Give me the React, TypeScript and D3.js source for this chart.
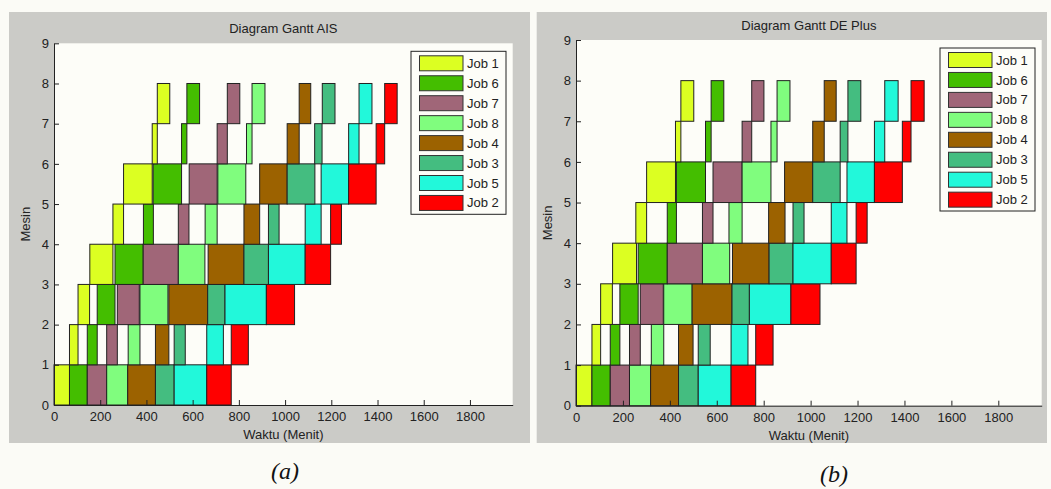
import React, { useRef, useEffect } from 'react';
import * as d3 from 'd3';

// job order on every machine (legend order too)
const jobs = ['Job 1', 'Job 6', 'Job 7', 'Job 8', 'Job 4', 'Job 3', 'Job 5', 'Job 2'];
const jobColors = ['#dcff22', '#44be00', '#a06678', '#80fd7e', '#9c6200', '#44bd80', '#22f8da', '#ff0000'];

const xTicks = [0, 200, 400, 600, 800, 1000, 1200, 1400, 1600, 1800];
const yTicks = [0, 1, 2, 3, 4, 5, 6, 7, 8, 9];
const xMax = 1985;
const yMax = 9;

// [start, end] per job, one list per machine (Mesin 1..8), AIS result
const aisSchedule = [
  [[0, 67], [67, 144], [144, 228], [228, 319], [319, 439], [439, 520], [520, 661], [661, 767]],
  [[67, 104], [144, 187], [228, 274], [321, 372], [439, 497], [520, 568], [661, 733], [767, 841]],
  [[104, 154], [187, 264], [274, 369], [372, 493], [497, 665], [665, 740], [740, 919], [919, 1041]],
  [[155, 255], [264, 386], [386, 538], [538, 653], [667, 822], [822, 928], [928, 1087], [1087, 1197]],
  [[255, 301], [387, 430], [538, 584], [654, 706], [822, 890], [928, 974], [1087, 1156], [1197, 1244]],
  [[301, 425], [429, 552], [585, 706], [709, 830], [890, 1009], [1009, 1129], [1156, 1275], [1275, 1394]],
  [[425, 447], [552, 575], [706, 750], [833, 857], [1009, 1061], [1128, 1160], [1275, 1320], [1394, 1431]],
  [[447, 501], [575, 630], [750, 804], [857, 913], [1061, 1111], [1161, 1216], [1320, 1376], [1431, 1485]],
];

// same layout, DE Plus result
const dePlusSchedule = [
  [[0, 68], [68, 146], [146, 228], [228, 318], [318, 437], [437, 521], [521, 661], [661, 766]],
  [[68, 105], [146, 187], [228, 274], [321, 374], [437, 499], [521, 572], [661, 733], [766, 840]],
  [[105, 155], [187, 265], [274, 372], [374, 495], [495, 665], [665, 739], [739, 916], [916, 1040]],
  [[156, 258], [265, 389], [389, 539], [539, 655], [667, 823], [823, 925], [925, 1088], [1088, 1194]],
  [[255, 301], [389, 428], [539, 584], [652, 708], [821, 891], [925, 972], [1088, 1155], [1194, 1241]],
  [[301, 424], [428, 552], [584, 708], [708, 831], [889, 1009], [1009, 1126], [1155, 1272], [1272, 1391]],
  [[424, 447], [552, 576], [708, 749], [831, 857], [1009, 1058], [1126, 1159], [1272, 1316], [1391, 1428]],
  [[447, 502], [576, 630], [749, 801], [857, 912], [1058, 1109], [1159, 1214], [1316, 1373], [1428, 1484]],
];

const FONT = 'Arial, "Liberation Sans", sans-serif';

const panels = [
  {
    title: 'Diagram Gantt AIS',
    schedule: aisSchedule,
    bg: { x0: 9, y0: 12, x1: 530, y1: 443 },
    plot: { left: 54, right: 512.7, top: 43.3, bottom: 405 },
    caption: '(a)', capX: 285, capY: 479,
  },
  {
    title: 'Diagram Gantt DE Plus',
    schedule: dePlusSchedule,
    bg: { x0: 536.7, y0: 12, x1: 1047, y1: 443 },
    plot: { left: 576, right: 1041.7, top: 40, bottom: 405.7 },
    caption: '(b)', capX: 834, capY: 482,
  },
];

export default function App() {
  const svgRef = useRef<SVGSVGElement>(null);

  useEffect(() => {
    const svg = d3.select(svgRef.current);
    svg.selectAll('*').remove();

    svg.append('rect').attr('width', 1051).attr('height', 489).attr('fill', '#fbfbf6');

    panels.forEach((p) => {
      const { plot, bg } = p;
      const g = svg.append('g');

      // grey figure background
      g.append('rect')
        .attr('x', bg.x0).attr('y', bg.y0)
        .attr('width', bg.x1 - bg.x0).attr('height', bg.y1 - bg.y0)
        .attr('fill', '#cbcbc7');

      // plot area
      g.append('rect')
        .attr('x', plot.left).attr('y', plot.top)
        .attr('width', plot.right - plot.left).attr('height', plot.bottom - plot.top)
        .attr('fill', '#fdfdf8');

      const x = d3.scaleLinear().domain([0, xMax]).range([plot.left, plot.right]);
      const y = d3.scaleLinear().domain([0, yMax]).range([plot.bottom, plot.top]);

      // bars
      p.schedule.forEach((machine, mi) => {
        machine.forEach(([s, e], ji) => {
          g.append('rect')
            .attr('x', x(s)).attr('y', y(mi + 1))
            .attr('width', x(e) - x(s)).attr('height', y(mi) - y(mi + 1))
            .attr('fill', jobColors[ji])
            .attr('stroke', '#222')
            .attr('stroke-width', 1);
        });
      });

      // axes
      const xAxis = g.append('g')
        .attr('transform', `translate(0,${plot.bottom})`)
        .call(d3.axisBottom(x).tickValues(xTicks).tickFormat(d3.format('d'))
          .tickSizeInner(-5).tickSizeOuter(0).tickPadding(7));
      const yAxis = g.append('g')
        .attr('transform', `translate(${plot.left},0)`)
        .call(d3.axisLeft(y).tickValues(yTicks).tickFormat(d3.format('d'))
          .tickSizeInner(-5).tickSizeOuter(0).tickPadding(5));
      [xAxis, yAxis].forEach((ax) => {
        ax.selectAll('path, line').attr('stroke', '#222');
        ax.selectAll('text').attr('fill', '#222').style('font-size', '13px').style('font-family', FONT);
      });

      // title and labels
      g.append('text')
        .attr('x', (plot.left + plot.right) / 2).attr('y', plot.top - 10)
        .attr('text-anchor', 'middle')
        .style('font-size', '13px').style('font-family', FONT).attr('fill', '#222')
        .text(p.title);
      g.append('text')
        .attr('x', (plot.left + plot.right) / 2).attr('y', plot.bottom + 34)
        .attr('text-anchor', 'middle')
        .style('font-size', '13px').style('font-family', FONT).attr('fill', '#222')
        .text('Waktu (Menit)');
      g.append('text')
        .attr('transform', `translate(${plot.left - 29},${(plot.top + plot.bottom) / 2}) rotate(-90)`)
        .attr('text-anchor', 'middle').attr('dy', '0.35em')
        .style('font-size', '13px').style('font-family', FONT).attr('fill', '#222')
        .text('Mesin');

      // legend
      const lw = 95;
      const lh = 163;
      const lx = plot.right - 6.7 - lw;
      const ly = plot.top + 8;
      const leg = g.append('g').attr('transform', `translate(${lx},${ly})`);
      leg.append('rect')
        .attr('width', lw).attr('height', lh)
        .attr('fill', '#fdfdf8').attr('stroke', '#222').attr('stroke-width', 1);
      jobs.forEach((name, i) => {
        const cy = 12 + i * 19.95;
        leg.append('rect')
          .attr('x', 8.5).attr('y', cy - 7.5)
          .attr('width', 43.5).attr('height', 15)
          .attr('fill', jobColors[i]).attr('stroke', '#333').attr('stroke-width', 1);
        leg.append('text')
          .attr('x', 56).attr('y', cy).attr('dy', '0.35em')
          .style('font-size', '13px').style('font-family', FONT).attr('fill', '#222')
          .text(name);
      });

      // caption under each chart
      svg.append('text')
        .attr('x', p.capX).attr('y', p.capY)
        .attr('text-anchor', 'middle')
        .style('font-size', '24px').style('font-style', 'italic')
        .style('font-family', '"Times New Roman", "Liberation Serif", serif')
        .attr('fill', '#111')
        .text(p.caption);
    });
  }, []);

  return (
    <svg
      ref={svgRef}
      width={1051}
      height={489}
      style={{ position: 'absolute', left: 0, top: 0 }}
    />
  );
}
